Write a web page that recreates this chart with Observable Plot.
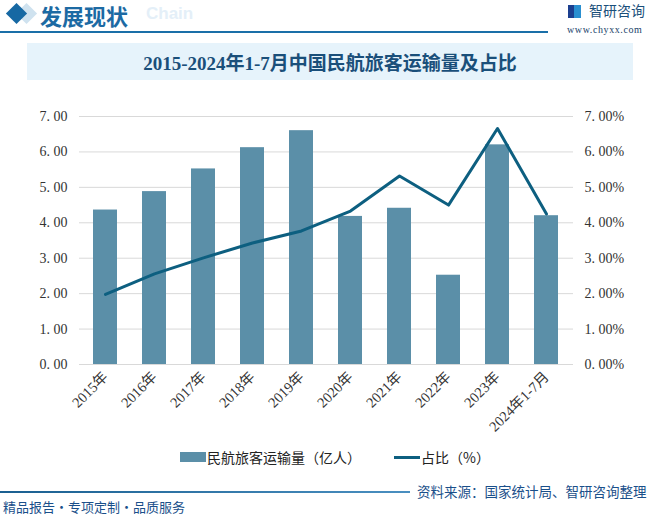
<!DOCTYPE html>
<html><head><meta charset="utf-8">
<script src="https://cdn.jsdelivr.net/npm/d3@7"></script>
<script src="https://cdn.jsdelivr.net/npm/@observablehq/plot@0.6"></script>
<style>
body{margin:0;background:#fff;font-family:"Noto Sans CJK SC",sans-serif;}
#page{position:relative;width:648px;height:515px;overflow:hidden;background:#fff;}
.abs{position:absolute;white-space:nowrap;}
</style></head>
<body><div id="page">
  <div class="abs" style="top:6px;width:15px;height:15px;background:#cfe2ef;transform:rotate(45deg);left:19px;"></div>
  <div class="abs" style="left:9px;top:6px;width:15px;height:15px;background:#1668a3;transform:rotate(45deg);"></div>
  <div class="abs" style="left:40px;top:-1px;font-size:22px;font-weight:bold;color:#1c6aa3;">发展现状</div>
  <div class="abs" style="left:146px;top:4px;font-size:17px;font-weight:bold;color:#e4eff8;font-family:'Liberation Sans',sans-serif;">Chain</div>
  <div class="abs" style="left:0;top:31px;width:548px;height:2px;background:#1a6fa8;"></div>
  <div class="abs" style="left:568px;top:5px;width:13px;height:13px;background:linear-gradient(90deg,#1c3f8f 50%,#2a8fd0 50%);"></div>
  <div class="abs" style="left:589px;top:0px;font-size:14px;color:#1a4f7a;">智研咨询</div>
  <div class="abs" style="left:567px;top:24px;font-size:10px;letter-spacing:0.6px;color:#1a3f6a;font-family:'Liberation Serif',serif;">www.chyxx.com</div>
  <div class="abs" style="left:27px;top:43px;width:606px;height:37px;background:#e6f3fb;"></div>
  <div class="abs" style="left:27px;top:48px;width:606px;text-align:center;font-size:19px;font-weight:bold;color:#1a4f7a;font-family:'Liberation Serif','Noto Sans CJK SC',serif;">2015-2024年1-7月中国民航旅客运输量及占比</div>
  <div id="chart" class="abs" style="left:0;top:100px;"></div>
  <div class="abs" style="left:180px;top:452px;width:26px;height:10px;background:#5b8fa8;"></div>
  <div class="abs" style="left:207px;top:447px;font-size:14px;color:#222;">民航旅客运输量（亿人）</div>
  <div class="abs" style="left:394px;top:456px;width:26px;height:3px;background:#0d5f80;"></div>
  <div class="abs" style="left:421px;top:447px;font-size:14px;color:#222;">占比（%）</div>
  <div class="abs" style="left:0;top:491px;width:410px;height:2px;background:linear-gradient(90deg,#1a5f90,#4a8fc0);"></div>
  <div class="abs" style="left:417px;top:481px;font-size:13.5px;color:#1a4f8a;">资料来源：国家统计局、智研咨询整理</div>
  <div class="abs" style="left:3px;top:497px;font-size:13px;color:#1a4f8a;">精品报告・专项定制・品质服务</div>
</div>
<script>
const years = ["2015年","2016年","2017年","2018年","2019年","2020年","2021年","2022年","2023年","2024年1-7月"];
const passengers = [4.36,4.88,5.52,6.12,6.60,4.18,4.41,2.52,6.20,4.20];
const shares = [1.98,2.56,3.01,3.43,3.77,4.33,5.32,4.50,6.66,4.25];
const yTicks = [0,1,2,3,4,5,6,7];
const data = years.map((y,i)=>({year:y, v:passengers[i], p:shares[i]}));
const chart = Plot.plot({
  width:648, height:340,
  marginTop:16, marginBottom:76, marginLeft:79, marginRight:75,
  style:{fontFamily:"'Liberation Serif','Noto Sans CJK SC',serif", fontSize:"14px", color:"#333", background:"transparent"},
  x:{domain:years, paddingInner:0.51, paddingOuter:0.255, label:null},
  y:{domain:[0,7], label:null},
  marks:[
    Plot.ruleY(yTicks,{stroke:"#d9d9d9", strokeWidth:1}),
    Plot.barY(data,{x:"year", y:"v", fill:"#5b8fa8"}),
    Plot.line(data,{x:"year", y:"p", stroke:"#0d5f80", strokeWidth:3, curve:"linear"}),
    Plot.axisY(yTicks,{anchor:"left", tickSize:0, tickPadding:12, tickFormat:d=>d.toFixed(2).replace(".",". "), label:null, fontSize:14}),
    Plot.axisY(yTicks,{anchor:"right", tickSize:0, tickPadding:11, tickFormat:d=>d.toFixed(2).replace(".",". ")+"%", label:null, fontSize:14}),
    Plot.axisX({tickSize:0, tickRotate:-45, tickPadding:10, label:null, fontSize:14.5, textAnchor:"end"})
  ]
});
document.getElementById("chart").appendChild(chart);
</script>
</body></html>
